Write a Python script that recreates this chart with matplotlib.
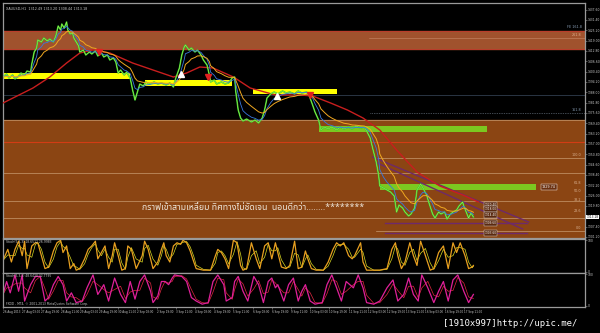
import matplotlib
matplotlib.use("Agg")
import matplotlib.pyplot as plt
from matplotlib import font_manager
import numpy as np
import pandas as pd

# ---- data (bar index = hour bars from 26 Aug 2013) ----
price_bar = [0, 3, 5, 8, 10, 13, 15, 18, 20, 23, 24, 26, 28, 29, 32, 34, 37, 39, 42, 44,
             46, 48, 49, 51, 53, 54, 56, 58, 59, 61, 63, 64, 67, 69, 72, 74, 77, 79, 82, 84,
             87, 89, 92, 94, 96, 98, 101, 103, 106, 108, 110, 112, 114, 117, 119, 122, 126, 129, 132, 136,
             139, 142, 144, 147, 149, 151, 152, 155, 157, 160, 162, 165, 167, 170, 172, 173, 176, 178, 182, 185,
             188, 191, 193, 194, 196, 198, 200, 203, 207, 210, 213, 216, 218, 220, 223, 226, 229, 233, 236, 239,
             243, 246, 249, 253, 255, 258, 260, 263, 265, 268, 271, 274, 278, 281, 284, 288, 291, 294, 298, 301,
             303, 306, 308, 311, 313, 314, 317, 320, 323, 326, 328, 330, 333, 335, 338, 340, 343, 345, 348, 350,
             353, 355, 358, 360, 363, 365, 368, 370, 373, 375, 378, 380, 383, 384, 386, 388, 390, 392]
price_val = [1397.2, 1399.0, 1396.6, 1398.4, 1396.0, 1397.8, 1399.6, 1398.4, 1400.8, 1400.2,
             1405.0, 1412.2, 1414.6, 1419.4, 1418.2, 1420.6, 1418.8, 1420.0, 1418.2, 1421.8,
             1427.8, 1425.4, 1429.0, 1426.6, 1430.2, 1425.4, 1423.0, 1423.6, 1420.6, 1418.2,
             1415.8, 1412.2, 1413.4, 1410.4, 1412.2, 1411.0, 1412.8, 1409.8, 1411.6, 1409.2,
             1410.4, 1407.4, 1408.6, 1406.2, 1399.6, 1401.4, 1398.4, 1400.2, 1396.6, 1389.4,
             1383.4, 1388.2, 1393.0, 1391.8, 1394.2, 1393.0, 1394.2, 1393.0, 1393.6, 1392.4,
             1393.6, 1391.2, 1396.6, 1402.6, 1410.4, 1415.2, 1416.4, 1413.4, 1414.6, 1412.2,
             1413.4, 1410.4, 1407.4, 1404.4, 1398.4, 1394.2, 1395.4, 1393.0, 1394.2, 1393.0,
             1393.6, 1396.6, 1397.2, 1388.2, 1377.4, 1372.6, 1370.8, 1372.0, 1370.2, 1371.4,
             1369.6, 1372.6, 1377.4, 1384.6, 1387.0, 1388.2, 1387.0, 1388.8, 1387.6, 1388.2,
             1387.0, 1388.8, 1387.6, 1388.2, 1386.4, 1380.4, 1376.2, 1371.4, 1365.4, 1367.2,
             1366.0, 1367.2, 1365.4, 1367.2, 1366.0, 1367.2, 1366.0, 1367.8, 1366.6, 1367.2,
             1364.8, 1360.6, 1354.6, 1346.2, 1338.4, 1331.8, 1330.6, 1329.4, 1328.2, 1325.8,
             1316.2, 1320.4, 1318.6, 1316.2, 1313.8, 1315.0, 1318.6, 1329.4, 1333.0, 1330.6,
             1326.4, 1321.6, 1315.0, 1312.6, 1316.2, 1315.0, 1316.2, 1312.0, 1315.0, 1316.2,
             1317.4, 1319.8, 1322.2, 1319.8, 1316.2, 1312.6, 1315.6, 1313.2]

# slow moving average (red)
slow_bar = [0, 25, 39, 53, 64, 75, 89, 108, 125, 142, 153, 164, 175, 192, 206, 227, 248, 258,
            273, 287, 300, 314, 328, 345, 364, 385, 396]
slow_val = [1381.6, 1390.6, 1397.2, 1405.6, 1411.6, 1413.4, 1411.6, 1405.6, 1401.4, 1397.2,
            1399.6, 1403.2, 1402.6, 1397.2, 1390.6, 1386.4, 1386.4, 1385.8, 1381.6, 1377.4,
            1372.6, 1365.4, 1353.4, 1340.2, 1331.8, 1325.8, 1322.2]

# signal arrows
buy_bar = [148, 228]
buy_val = [1399.0, 1385.8]
sell_bar = [80, 171, 256]
sell_val = [1412.2, 1397.2, 1386.4]

# support / resistance boxes: (start bar, end bar, low, high)
yellow_zones = [(0, 106, 1396.0, 1399.6), (118, 191, 1391.8, 1395.4), (208, 278, 1387.0, 1390.0)]
green_zones = [(263, 403, 1364.2, 1367.8), (314, 444, 1329.4, 1333.0)]

# triangle lines
tri_upper = ([308, 438], [1349.2, 1310.2])
tri_lower = ([312, 433], [1345.6, 1306.0])
tri_flat = [1309.6, 1303.6]
tri_flat_bars = [318, 437]

# fibonacci levels
fib_names = ["0.0", "23.6", "38.2", "50.0", "61.8", "100.0", "161.8"]
fib_vals = [1304.8, 1315.0, 1321.6, 1327.0, 1331.8, 1348.6, 1375.6]
full_lines = [1339.6, 1322.8, 1312.6]
label_boxes = [1320.4, 1318.0, 1314.4, 1309.6, 1303.6]

# oscillators
osc1_bar = [0, 4, 7, 10, 13, 16, 18, 20, 24, 27, 29, 32, 35, 38, 42, 45, 48, 50, 53, 56,
            59, 61, 64, 68, 71, 74, 77, 79, 82, 85, 88, 91, 93, 96, 99, 102, 104, 107, 111, 116,
            118, 121, 125, 129, 132, 134, 136, 139, 142, 145, 148, 150, 153, 156, 159, 161, 167, 173, 177, 179,
            182, 185, 188, 192, 195, 198, 200, 203, 207, 211, 214, 218, 221, 224, 227, 229, 232, 236, 239, 243,
            246, 249, 252, 254, 257, 261, 267, 271, 275, 278, 281, 284, 288, 291, 293, 298, 300, 303, 309, 314,
            320, 324, 327, 329, 332, 335, 339, 342, 345, 348, 352, 356, 359, 363, 367, 371, 375, 378, 381, 385,
            388, 391, 392]
osc1_val = [36, 71, 31, 71, 97, 51, 97, 10, 82, 92, 92, 51, 10, 15, 66, 92, 100, 61, 82, 10,
            26, 5, 10, 41, 71, 82, 97, 41, 61, 82, 10, 51, 92, 51, 5, 10, 82, 71, 10, 51,
            97, 71, 10, 31, 71, 92, 51, 31, 82, 92, 87, 100, 92, 66, 31, 10, 5, 5, 51, 71,
            61, 41, 10, 100, 92, 20, 5, 10, 92, 41, 10, 82, 92, 41, 92, 61, 15, 10, 20, 97,
            10, 15, 66, 41, 10, 5, 5, 31, 71, 92, 82, 92, 51, 41, 51, 92, 31, 5, 5, 5,
            10, 71, 92, 51, 10, 31, 92, 51, 20, 97, 51, 5, 10, 61, 82, 10, 92, 61, 92, 51,
            10, 15, 20]

osc2_bar = [0, 3, 6, 10, 13, 16, 18, 23, 27, 31, 35, 38, 42, 46, 50, 53, 57, 61, 66, 70,
            75, 79, 84, 88, 93, 98, 102, 106, 110, 114, 118, 123, 125, 129, 132, 135, 138, 141, 143, 149,
            153, 157, 161, 166, 171, 175, 179, 184, 186, 191, 193, 196, 200, 204, 209, 213, 217, 221, 224, 227,
            229, 234, 238, 242, 246, 249, 252, 256, 260, 266, 270, 274, 278, 282, 286, 292, 296, 300, 303, 309,
            314, 320, 325, 329, 334, 338, 342, 346, 349, 354, 359, 363, 367, 371, 375, 379, 384, 388, 392]
osc2_val = [36, 77, 41, 98, 46, 98, 15, 67, 93, 93, 15, 26, 67, 93, 67, 15, 41, 10, 15, 57,
            98, 36, 67, 15, 88, 36, 10, 77, 21, 77, 98, 46, 10, 31, 77, 77, 67, 88, 98, 93,
            77, 26, 15, 5, 10, 77, 98, 67, 15, 26, 77, 93, 46, 15, 93, 67, 10, 77, 88, 57,
            67, 15, 67, 88, 15, 46, 67, 15, 5, 10, 67, 98, 57, 15, 77, 57, 98, 57, 10, 5,
            15, 57, 82, 15, 36, 88, 36, 15, 98, 57, 10, 46, 77, 15, 82, 98, 46, 10, 36]

x_labels = ["26 Aug 2013", "27 Aug 03:00", "27 Aug 19:00", "28 Aug 11:00", "29 Aug 03:00",
            "29 Aug 19:00", "30 Aug 11:00", "2 Sep 03:00", "2 Sep 19:00", "3 Sep 11:00",
            "4 Sep 03:00", "4 Sep 19:00", "5 Sep 11:00", "6 Sep 03:00", "6 Sep 19:00",
            "9 Sep 11:00", "10 Sep 03:00", "10 Sep 19:00", "11 Sep 11:00", "12 Sep 03:00",
            "12 Sep 19:00", "13 Sep 11:00", "16 Sep 03:00", "16 Sep 19:00", "17 Sep 11:00"]

comment = "กราฟเข้าสามเหลี่ยม ทิศทางไม่ชัดเจน  นอนดีกว่า........********"
header = "XAUUSD,H1  1312.49 1313.20 1308.44 1313.18"

# ---- fonts ----
names = {f.name for f in font_manager.fontManager.ttflist}
thai = next((c for c in ["Noto Sans Thai", "Sarabun", "Noto Sans Thai Looped", "Prompt", "Kanit",
                         "Bai Jamjuree"] if c in names), "DejaVu Sans")

GREY = "#c8c8c8"
FRAME = "#9a9a9a"
XMAX = 485

fig = plt.figure(figsize=(6, 3.33), dpi=100, facecolor="black")
W, H = 600.0, 333.0
ax = fig.add_axes([3 / W, 1 - 238 / H, 582 / W, 235 / H])
ax1 = fig.add_axes([3 / W, 1 - 273 / H, 582 / W, 34 / H])
ax2 = fig.add_axes([3 / W, 1 - 307 / H, 582 / W, 34 / H])

for a in (ax, ax1, ax2):
    a.set_facecolor("black")
    a.set_xlim(0, XMAX)
    for s in a.spines.values():
        s.set_color(FRAME)
        s.set_linewidth(0.9)
    a.yaxis.tick_right()
    a.tick_params(axis="both", colors=FRAME, labelcolor=GREY, labelsize=2.2,
                  length=1.2, width=0.4, pad=0.6)
    a.set_xticks([])

# ---- main chart ----
ax.set_ylim(1300.6, 1441.6)
yt = np.arange(1301.2, 1440, 6.2)
ax.set_yticks(yt)
ax.set_yticklabels(["%.2f" % v for v in yt])

ax.axhspan(1414.0, 1424.8, color="#a0522d", zorder=0)
ax.axhline(1424.8, color="#c0392b", lw=0.6, zorder=0.5)
ax.axhline(1414.0, color="#c0392b", lw=0.6, zorder=0.5)
ax.plot([305, XMAX], [1420.6, 1420.6], color="#c88a6a", lw=0.4, zorder=0.5)
ax.axhspan(1300.6, 1371.4, color="#8b4513", zorder=0)
ax.axhline(1371.4, color="#c89a70", lw=0.5, zorder=0.5)
ax.axhline(1358.2, color="#d23c14", lw=0.8, zorder=0.5)
ax.axhline(1386.4, color="#3a4a5e", lw=0.5, zorder=0.5)
for v in full_lines:
    ax.axhline(v, color="#c89a70", lw=0.5, zorder=0.5)
for name, v in zip(fib_names, fib_vals):
    if name == "161.8":
        ax.plot([306, XMAX], [v, v], color="#8090a0", lw=0.5, ls=(0, (1, 1.5)), zorder=0.5)
    elif name in ("100.0", "0.0"):
        ax.plot([311, XMAX], [v, v], color="#c89a70", lw=0.5, zorder=0.5)
    ax.text(482, v + 0.6, name, color="#d8b090" if v < 1371 else "#8aa0b8",
            fontsize=2.4, ha="right", va="bottom")
ax.text(482, 1426.0, "FE 161.8", color="#8aa0b8", fontsize=2.4, ha="right", va="bottom")
ax.text(482, 1421.2, "261.8", color="#e0b090", fontsize=2.4, ha="right", va="bottom")

for b0, b1, lo, hi in yellow_zones:
    ax.fill_between([b0, b1], lo, hi, color="#ffff00", lw=0, zorder=1)
for b0, b1, lo, hi in green_zones:
    ax.fill_between([b0, b1], lo, hi, color="#7cc820", lw=0, zorder=1)
ax.text(449, 1331.2, "1329.74", fontsize=2.4, color="white", va="center",
        bbox=dict(facecolor="#6a3010", edgecolor="white", lw=0.3, pad=0.6))

ax.plot(*tri_upper, color="#6e2a6a", lw=1.0, zorder=2)
ax.plot(*tri_lower, color="#6e2a6a", lw=1.0, zorder=2)
for v in tri_flat:
    ax.plot(tri_flat_bars, [v, v], color="#6e2a6a", lw=1.0, zorder=2)
for v in label_boxes:
    ax.text(401, v, "%.2f" % v, fontsize=2.1, color="white", va="center",
            bbox=dict(facecolor="#5a2a10", edgecolor="#e0e0e0", lw=0.3, pad=0.4), zorder=5)

close = pd.Series(price_val)
fast = close.ewm(span=4, adjust=False).mean()
mid = close.ewm(span=9, adjust=False).mean()
ax.plot(slow_bar, slow_val, color="#c81e1e", lw=1.0, zorder=3)
ax.plot(price_bar, price_val, color="#32cd32", lw=1.1, zorder=3)
ax.plot(price_bar, price_val, color="#c8f050", lw=0.3, zorder=3.1)
ax.plot(price_bar, fast, color="#3878e0", lw=0.6, zorder=3.2)
ax.plot(price_bar, mid, color="#f0a820", lw=0.7, zorder=3.3)
ax.plot(buy_bar, buy_val, ls="none", marker="^", ms=4.5, color="white", zorder=4)
ax.plot(sell_bar, sell_val, ls="none", marker="v", ms=4.5, color="#e02020", zorder=4)

ax.text((142 - 3) / 582, (238 - 207) / 235, comment, transform=ax.transAxes,
        fontsize=6.3, color="#ece4d8", family=[thai, "DejaVu Sans"], va="center", zorder=6)
ax.text(0.006, 0.985, header, transform=ax.transAxes, fontsize=2.4, color=GREY, va="top")
ax.text(1.003, (1313.2 - 1300.6) / 141.0, "1313.18", transform=ax.transAxes, fontsize=2.1,
        color="black", va="center", ha="left",
        bbox=dict(facecolor="white", edgecolor="none", pad=0.3))

# ---- oscillators ----
s1 = pd.Series(osc1_val).rolling(2, min_periods=1).mean()
s2 = pd.Series(osc2_val).rolling(2, min_periods=1).mean()
for a, b, v, s, c1, c2, lbl in ((ax1, osc1_bar, osc1_val, s1, "#e8a020", "#d8d820",
                                 "Stoch(5,3,3) 18.6512 26.9983"),
                                (ax2, osc2_bar, osc2_val, s2, "#e0209a", "#e02840",
                                 "Stoch(5,3,3) 48.6420 32.7795")):
    a.set_ylim(-4, 104)
    a.set_yticks([0, 100])
    a.set_yticklabels(["0", "100"])
    a.plot(b, s, color=c2, lw=0.5)
    a.plot(b, v, color=c1, lw=0.9)
    a.text(0.006, 0.97, lbl, transform=a.transAxes, fontsize=2.2, color=GREY, va="top")
ax2.text(0.006, 0.04, "FXDD - MT4, \u00a9 2001-2013 MetaQuotes Software Corp.",
         transform=ax2.transAxes, fontsize=2.2, color=GREY, va="bottom")

ticks = [16 * i for i in range(len(x_labels))]
ax2.set_xticks(ticks)
ax2.set_xticklabels(x_labels, ha="left", fontsize=2.0)
ax2.tick_params(axis="x", length=1.2, pad=0.8)

fig.text(443 / W, 1 - 323 / H, "[1910x997]http://upic.me/", color="white",
         fontsize=6.4, family="DejaVu Sans Mono", va="center")

fig.savefig("out.png", dpi=100, facecolor="black")
